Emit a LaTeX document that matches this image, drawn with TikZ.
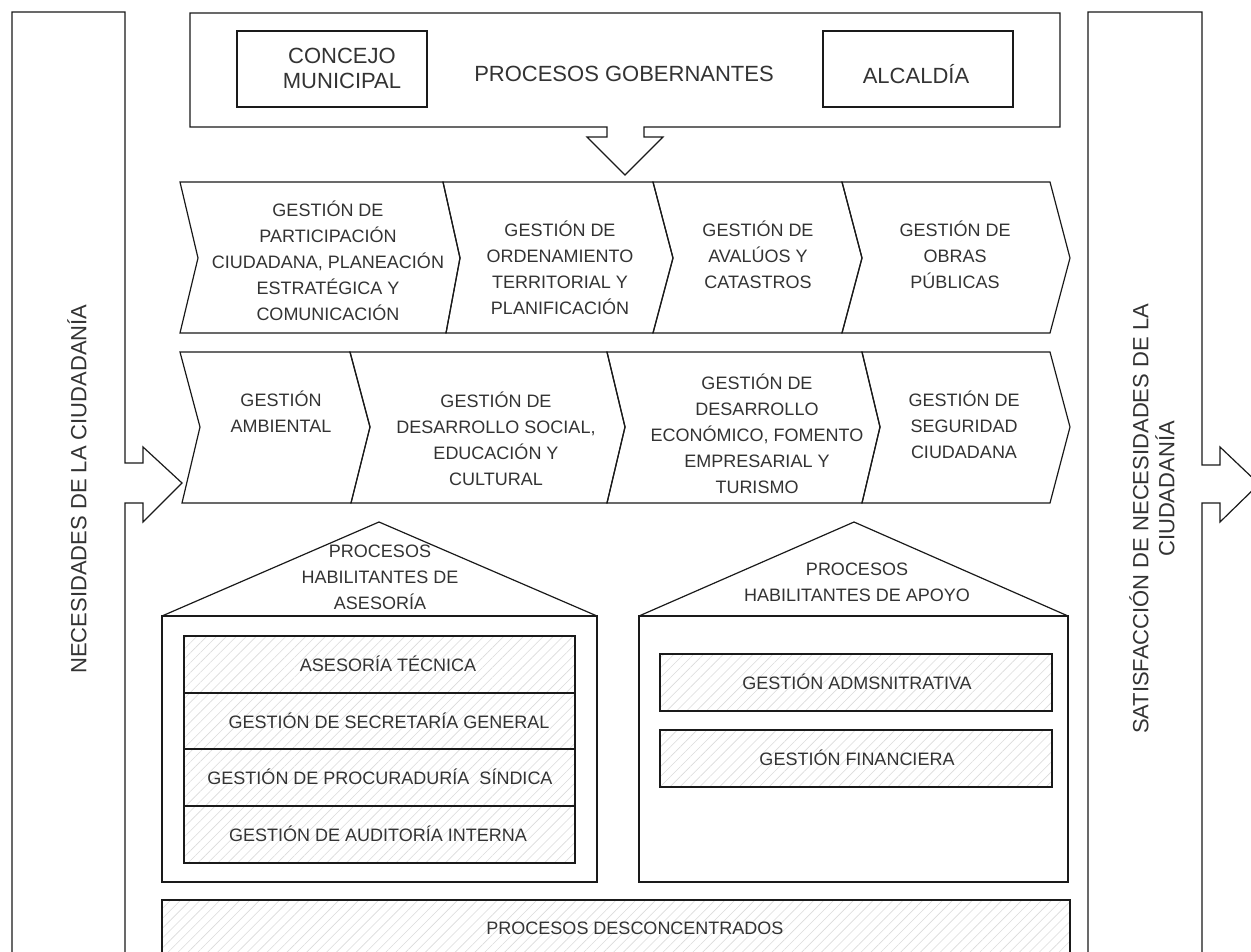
\documentclass[tikz,border=0pt]{standalone}
\usepackage{fontspec}
\setmainfont{Liberation Sans}
\usetikzlibrary{patterns.meta}
\definecolor{txt}{HTML}{333333}
\definecolor{ln}{HTML}{1A1A1A}
\begin{document}
\begin{tikzpicture}[x=1pt,y=-1pt,
  outline/.style={draw=ln,line width=1.2pt,line join=miter},
  hatch/.style={outline,pattern={Lines[angle=45,distance=7pt,line width=0.6pt]},pattern color=black!14},
  bigtxt/.style={text=txt,font=\fontsize{22}{25}\selectfont,align=center,inner sep=0pt},
  smtxt/.style={text=txt,font=\fontsize{18}{26}\selectfont,align=center,inner sep=0pt}]
\useasboundingbox[fill=white] (0,0) rectangle (1251,952);
% left bar with arrow
\draw[outline] (12,965) -- (12,12) -- (125,12) -- (125,463) -- (143,463) -- (143,447) -- (182,483) -- (143,522) -- (143,503) -- (125,503) -- (125,965);
% right bar with arrow
\draw[outline] (1088,965) -- (1088,12) -- (1202,12) -- (1202,465) -- (1220,465) -- (1220,447) -- (1259,484) -- (1220,522) -- (1220,503) -- (1202,503) -- (1202,965);
% top box with down arrow
\draw[outline] (190,13) -- (1060,13) -- (1060,127) -- (644,127) -- (644,137) -- (663,137) -- (625,175) -- (587,137) -- (607,137) -- (607,127) -- (190,127) -- cycle;
\draw[outline] (237,31) rectangle (427,107);
\draw[outline] (823,31) rectangle (1013,107);
\node[bigtxt] (concejo) at (342,68) {CONCEJO\\MUNICIPAL};
\node[bigtxt] (gob) at (624,74) {PROCESOS GOBERNANTES};
\node[bigtxt] (alcaldia) at (916,74) {ALCALD\'IA};
% chevron row 1
\draw[outline] (180,182) -- (443,182) -- (460,258) -- (446,333) -- (180,333) -- (198,258) -- cycle;
\draw[outline] (443,182) -- (653,182) -- (673,258) -- (653,333) -- (446,333) -- (460,258) -- cycle;
\draw[outline] (653,182) -- (842,182) -- (862,258) -- (842,333) -- (653,333) -- (673,258) -- cycle;
\draw[outline] (842,182) -- (1050,182) -- (1070,258) -- (1050,333) -- (842,333) -- (862,258) -- cycle;
\node[smtxt] (r1a) at (328,261) {GESTI\'ON DE\\PARTICIPACI\'ON\\CIUDADANA, PLANEACI\'ON\\ESTRAT\'EGICA Y\\COMUNICACI\'ON};
\node[smtxt] (r1b) at (560,268) {GESTI\'ON DE\\ORDENAMIENTO\\TERRITORIAL Y\\PLANIFICACI\'ON};
\node[smtxt] (r1c) at (758,255) {GESTI\'ON DE\\AVAL\'UOS Y\\CATASTROS};
\node[smtxt] (r1d) at (955,255) {GESTI\'ON DE\\OBRAS\\P\'UBLICAS};
% chevron row 2
\draw[outline] (180,352) -- (350,352) -- (370,427) -- (351,503) -- (182,503) -- (200,427) -- cycle;
\draw[outline] (350,352) -- (607,352) -- (625,427) -- (607,503) -- (351,503) -- (370,427) -- cycle;
\draw[outline] (607,352) -- (862,352) -- (880,427) -- (862,503) -- (607,503) -- (625,427) -- cycle;
\draw[outline] (862,352) -- (1050,352) -- (1070,427) -- (1050,503) -- (862,503) -- (880,427) -- cycle;
\node[smtxt] (r2a) at (281,412) {GESTI\'ON\\AMBIENTAL};
\node[smtxt] (r2b) at (496,439) {GESTI\'ON DE\\DESARROLLO SOCIAL,\\EDUCACI\'ON Y\\CULTURAL};
\node[smtxt] (r2c) at (757,434) {GESTI\'ON DE\\DESARROLLO\\ECON\'OMICO, FOMENTO\\EMPRESARIAL Y\\TURISMO};
\node[smtxt] (r2d) at (964,425) {GESTI\'ON DE\\SEGURIDAD\\CIUDADANA};
% left house
\draw[outline] (162,616) -- (379,522) -- (597,616);
\draw[outline] (162,616) rectangle (597,882);
\node[smtxt] (habase) at (380,577) {PROCESOS\\HABILITANTES DE\\ASESOR\'IA};
\draw[hatch] (184,636) rectangle (575,693);
\draw[hatch] (184,693) rectangle (575,749);
\draw[hatch] (184,749) rectangle (575,806);
\draw[hatch] (184,806) rectangle (575,863);
\node[smtxt] (ase1) at (388,664) {ASESOR\'IA T\'ECNICA};
\node[smtxt] (ase2) at (389,721) {GESTI\'ON DE SECRETAR\'IA GENERAL};
\node[smtxt] (ase3) at (380,777) {GESTI\'ON DE PROCURADUR\'IA\ \ S\'INDICA};
\node[smtxt] (ase4) at (378,834) {GESTI\'ON DE AUDITOR\'IA INTERNA};
% right house
\draw[outline] (639,616) -- (854,522) -- (1068,616);
\draw[outline] (639,616) rectangle (1068,882);
\node[smtxt] (habapo) at (857,582) {PROCESOS\\HABILITANTES DE APOYO};
\draw[hatch] (660,654) rectangle (1052,711);
\draw[hatch] (660,730) rectangle (1052,787);
\node[smtxt] (apo1) at (857,682) {GESTI\'ON ADMSNITRATIVA};
\node[smtxt] (apo2) at (857,758) {GESTI\'ON FINANCIERA};
% bottom box
\draw[hatch] (162,900) rectangle (1070,965);
\node[smtxt] (desc) at (635,928) {PROCESOS DESCONCENTRADOS};
% vertical labels
\node[bigtxt,rotate=90] (nec) at (77,489) {NECESIDADES DE LA CIUDADAN\'IA};
\node[bigtxt,rotate=90] (sat1) at (1139,519) {SATISFACCI\'ON DE NECESIDADES DE LA};
\node[bigtxt,rotate=90] (sat2) at (1165,489) {CIUDADAN\'IA};
\end{tikzpicture}
\end{document}
